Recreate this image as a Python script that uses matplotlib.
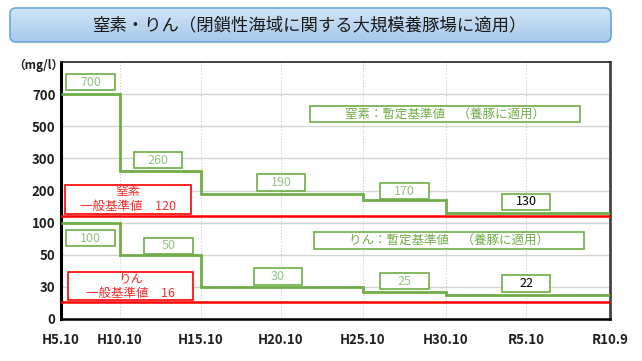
import numpy as np
import matplotlib
matplotlib.use('Agg')
import matplotlib.pyplot as plt
from matplotlib.patches import Rectangle, FancyBboxPatch
from matplotlib.colors import LinearSegmentedColormap
from matplotlib.transforms import ScaledTranslation, blended_transform_factory

plt.rcParams['font.family'] = ['Noto Sans CJK JP', 'DejaVu Sans']

# ---- data ----
title = '窒素・りん（閉鎖性海域に関する大規模養豚場に適用）'
periods = ['H5.10', 'H10.10', 'H15.10', 'H20.10', 'H25.10', 'H30.10', 'R5.10', 'R10.9']
y_ticks = [0, 30, 50, 100, 200, 300, 500, 700]

# step edges are indices into periods
n_edges = [0, 1, 2, 4, 5, 7]
n_vals = [700, 260, 190, 170, 130]
p_edges = [0, 1, 2, 4, 5, 7]
p_vals = [100, 50, 30, 25, 22]
n_general = 120
p_general = 16

n_label = '窒素：暫定基準値　（養豚に適用）'
p_label = 'りん：暫定基準値　（養豚に適用）'
n_general_label = ['窒素', '一般基準値　' + str(n_general)]
p_general_label = ['りん', '一般基準値　' + str(p_general)]

# ---- layout ----
period_px = [0, 59, 140, 220, 302, 385, 465, 549]   # uneven spacing of the period ticks
y_top = 900                                          # value placed one step above 700
n_lx = [0.5, 1.47, 3.0, 4.5, 6.0]
n_dy = [0.12, 0.11, 0.11, 0.09, 0.11]
p_lx = [0.5, 1.6, 2.96, 4.5, 6.0]
p_dy = [-0.155, 0.09, 0.105, 0.11, 0.12]

green = '#70ad47'
green_txt = '#93c47d'
red = '#ff0000'
red_txt = '#ff2a2a'

fig = plt.figure(figsize=(6.42, 3.61), dpi=100)

# ---- title banner ----
bax = fig.add_axes([9/642, 1-43/361, 603/642, 36/361])
bax.set_xlim(0, 603)
bax.set_ylim(0, 36)
bax.axis('off')
banner = FancyBboxPatch((1, 1), 601, 34, boxstyle='round,pad=0,rounding_size=6',
                        fc='none', ec='#6ea6dc', lw=1.2, zorder=3)
bax.add_patch(banner)
cmap = LinearSegmentedColormap.from_list('banner', ['#a6c9eb', '#d2e5f6'])
im = bax.imshow(np.linspace(0, 1, 64).reshape(-1, 1), cmap=cmap, origin='lower',
                extent=(1, 602, 1, 35), aspect='auto', zorder=1)
im.set_clip_path(banner)
bax.text(301, 18, title, ha='center', va='center', fontsize=12.5, color='#1a1a1a', zorder=4)

# ---- main axes ----
ax = fig.add_axes([61/642, 1-319/361, 549/642, 257/361])

x_idx = np.arange(len(periods))
ax.set_xscale('function', functions=(lambda v: np.interp(v, x_idx, period_px),
                                     lambda p: np.interp(p, period_px, x_idx)))
y_vals_ext = y_ticks + [y_top]
y_pos = np.arange(len(y_vals_ext))
ax.set_yscale('function', functions=(lambda v: np.interp(v, y_vals_ext, y_pos),
                                     lambda p: np.interp(p, y_pos, y_vals_ext)))
ax.set_xlim(0, len(periods) - 1)
ax.set_ylim(0, y_top)

ax.set_xticks(x_idx)
ax.set_xticklabels(periods)
ax.set_yticks(y_ticks)
ax.set_yticklabels([str(v) for v in y_ticks])
ax.minorticks_off()
ax.tick_params(axis='both', length=0, labelsize=9.5, labelcolor='#1f1f1f')
ax.tick_params(axis='x', pad=10)
ax.tick_params(axis='y', pad=4)
for lab in ax.get_xticklabels() + ax.get_yticklabels():
    lab.set_fontweight('bold')

ax.grid(axis='y', color='#d4d4d4', lw=1.0, ls='-', zorder=0)
ax.grid(axis='x', color='#c8c8c8', lw=0.8, ls=':', zorder=0)
ax.set_axisbelow(True)

ax.spines['left'].set_linewidth(2.2)
ax.spines['left'].set_color('black')
ax.spines['bottom'].set_linewidth(1.8)
ax.spines['bottom'].set_color('black')
ax.spines['top'].set_linewidth(1.2)
ax.spines['top'].set_color('#222222')
ax.spines['right'].set_linewidth(2.0)
ax.spines['right'].set_color('#444444')

ax.stairs(n_vals, n_edges, baseline=None, color=green, lw=2.0, zorder=3)
ax.stairs(p_vals, p_edges, baseline=None, color=green, lw=2.0, zorder=3)
ax.axhline(n_general, color=red, lw=1.8, zorder=3)
ax.axhline(p_general, color=red, lw=1.8, zorder=3)


def box(base, x, y, dy, w, h, lines, ec, tc, fs=9, lw=1.2, step=0.15):
    tr = fig.dpi_scale_trans + ScaledTranslation(x, y, base)
    ax.add_patch(Rectangle((-w/2, dy - h/2), w, h, transform=tr, fc='white', ec=ec, lw=lw, zorder=4))
    if isinstance(lines, str):
        lines = [lines]
    top = dy + step * (len(lines) - 1) / 2
    for k, line in enumerate(lines):
        ax.text(0, top - k * step, line, transform=tr, ha='center', va='center',
                color=tc, fontsize=fs, zorder=5)


for i, v in enumerate(n_vals):
    tc = 'black' if i == len(n_vals) - 1 else green_txt
    box(ax.transData, n_lx[i], v, n_dy[i], 0.485, 0.165, str(v), green, tc)
for i, v in enumerate(p_vals):
    tc = 'black' if i == len(p_vals) - 1 else green_txt
    box(ax.transData, p_lx[i], v, p_dy[i], 0.485, 0.165, str(v), green, tc)

box(ax.transAxes, 0.6995, 0.798, 0, 2.70, 0.16, n_label, green, green, fs=9)
box(ax.transAxes, 0.7067, 0.307, 0, 2.70, 0.17, p_label, green, green, fs=9)

blend = blended_transform_factory(ax.transAxes, ax.transData)
box(blend, 0.122, n_general, 0.17, 1.26, 0.29, n_general_label, red, red_txt, fs=9, step=0.15)
box(blend, 0.1275, p_general, 0.16, 1.25, 0.285, p_general_label, red, red_txt, fs=9, step=0.15)

fig.text(38.5/642, 1-65/361, '（mg/l）', ha='center', va='center', fontsize=8.5,
         fontweight='bold', color='#1f1f1f')

fig.savefig('out.png', dpi=100)
